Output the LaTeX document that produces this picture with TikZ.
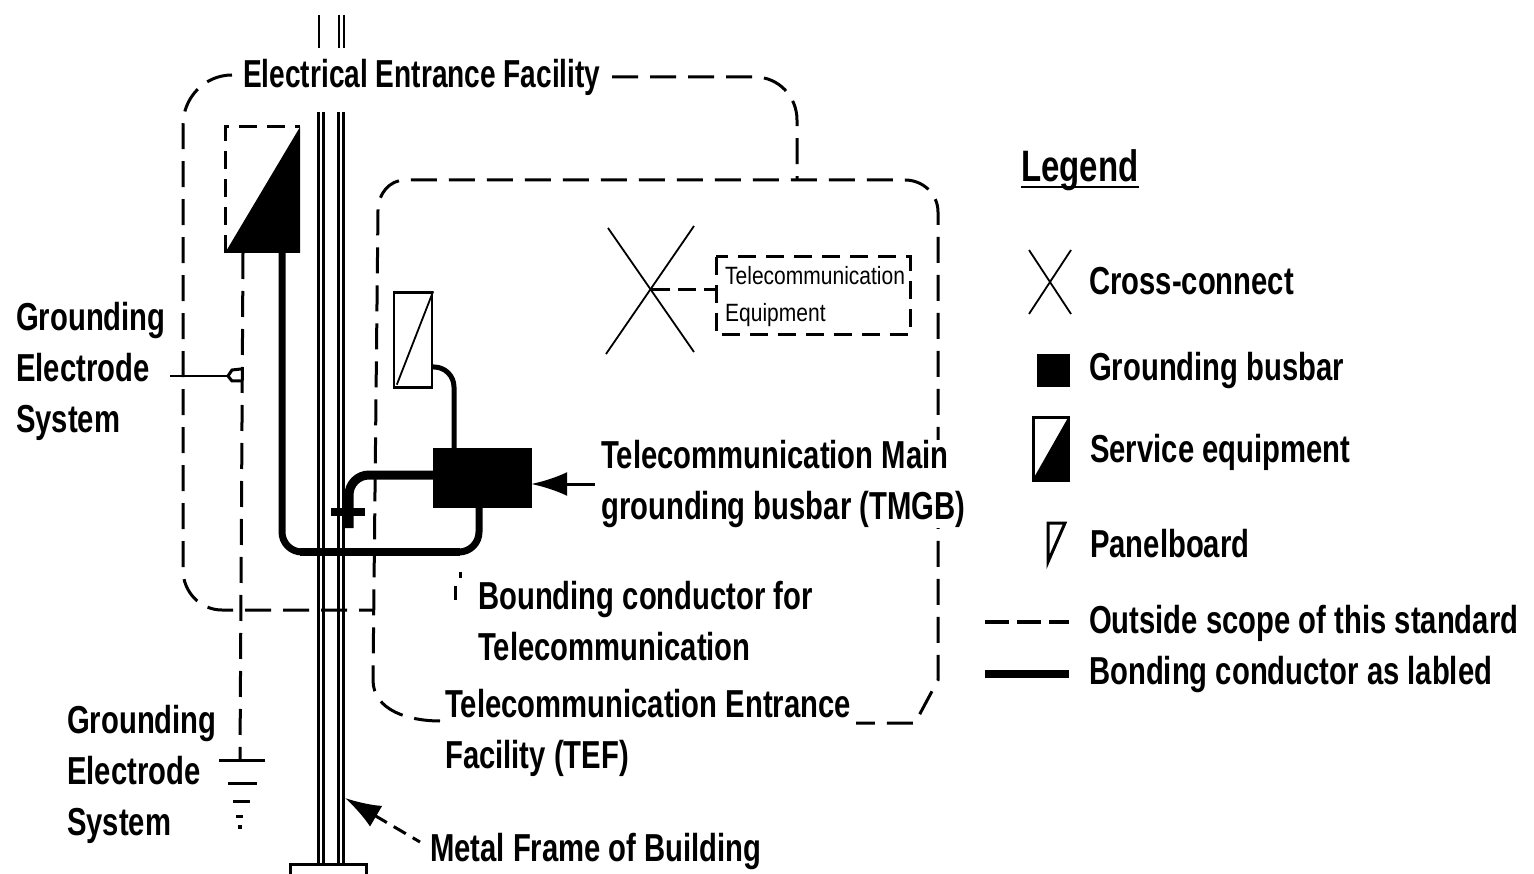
\documentclass[tikz,border=0pt]{standalone}
\usepackage{fontspec}
\setmainfont[UprightFont=* Bold,FakeStretch=0.75]{Liberation Sans}
\newfontfamily\eqfont[FakeStretch=0.84]{Liberation Sans}
\usepackage{tikz}
\usetikzlibrary{arrows.meta, positioning, calc}
\tikzset{
    lbl/.style    ={font=\fontsize{39}{51}\selectfont, align=left, anchor=west, inner sep=0pt},
    smalllbl/.style={font=\eqfont\fontsize{25}{37}\selectfont, align=left, anchor=west, inner sep=0pt},
    dsh/.style    ={draw=black, line width=3pt, dash pattern=on 26pt off 12pt},
    thn/.style    ={draw=black, line width=1.8pt},
    bond/.style   ={draw=black, line width=7pt, rounded corners=20pt},
    solid box/.style={fill=black, draw=black, inner sep=0pt},
    ar/.style     ={{Latex[length=36pt,width=24pt]}-, draw=black, line width=3pt}
}
\begin{document}
\begin{tikzpicture}[x=1pt, y=-1pt]
  \useasboundingbox (0,0) rectangle (1534,874);

  % building frame
  \foreach \fx in {318,323,338,343} {
    \draw[line width=3pt] (\fx,112) -- (\fx,864);
  }
  \draw[line width=2.6pt] (319,15) -- (319,48);
  \draw[line width=2.6pt] (339,15) -- (339,48);
  \draw[line width=2.6pt] (344,15) -- (344,48);
  \draw[line width=3pt] (290,874) |- (366,864) -- (366,874);

  % electrical entrance facility
  \coordinate (ea) at (232,75);
  \coordinate (eb) at (612,77);
  \coordinate (ec) at (797,180);
  \draw[dsh] (ea) to[out=180,in=90] (183,125) -- (183,570) to[out=-90,in=180] (222,610) -- (373,610);
  \draw[dsh] (eb) -- (755,77) to[out=0,in=90] (797,120) -- (ec);

  % telecommunication entrance facility
  \coordinate (ta) at (440,721);
  \coordinate (tb) at (856,723);
  \draw[dsh] (ta) to[out=180,in=-90] (373,680) -- (378,210) to[out=90,in=180] (405,180)
        -- (905,180) to[out=0,in=90] (938,212) -- (938,680) -- (915,723) -- (tb);

  % service equipment
  \coordinate (sa) at (225,253);
  \coordinate (sb) at (300,127);
  \coordinate (sc) at (300,253);
  \draw[dsh, dash pattern=on 18pt off 10pt] (sa) |- (sb);
  \fill (sa) -- (sb) -- (sc) -- cycle;

  % panelboard and busbar
  \node[draw=black, line width=2.4pt, minimum width=38pt, minimum height=95pt, inner sep=0pt] (panel) at (413,340) {};
  \draw[thn] (panel.north east) -- ($(panel.south west)+(4,-4)$);
  \node[solid box, minimum width=98pt, minimum height=59pt] (tmgb) at (482,478) {};

  % conductors
  \draw[bond] (282,253) -- (282,552) -- (479,552) -- (479,507);
  \draw[draw=black, line width=8pt] (300,552) -- (460,552);
  \draw[draw=black, line width=5pt, rounded corners=20pt] (panel.east |- 0,367) -- (454,367) -- (454,448);
  \draw[bond, line width=9pt] (tmgb.west |- 0,475) -- (349,475) -- (349,528);
  \draw[line width=8pt] (331,512) -- (365,512);

  % electrode line
  \coordinate (ga) at (243,253);
  \coordinate (gb) at (240,760);
  \draw[dsh] (ga) -- (gb);
  \draw[thn, line width=2.6pt] (170,376) -- (228,376);
  \draw[line width=3pt] (241,369) -- (232,370) -- (228,376) -- (232,381) -- (241,381);
  \draw[line width=3pt] (219,760) -- (265,760);
  \draw[line width=3pt] (228,783) -- (257,783);
  \draw[line width=3pt] (233,801) -- (250,801);
  \draw[line width=3pt] (236,816) -- (243,816);
  \fill (238,825) rectangle (242,829);

  % pointers
  \draw[ar] (tmgb.east |- 0,484) -- (595,484);
  \coordinate (mf) at (345,798);
  \draw[ar, dash pattern=on 14pt off 8pt] (mf) -- (420,842);
  \draw[line width=3pt] (460,572) -- (460,578);
  \draw[line width=3pt] (455,586) -- (455,600);

  % labels
  \node[lbl, xscale=0.96, transform shape] (elec) at (243,77) {Electrical Entrance Facility};
  \node[lbl] (ges1) at (16,371)   {Grounding\\Electrode\\System};
  \node[lbl] (ges2) at (67,774)   {Grounding\\Electrode\\System};
  \node[lbl, fill=white] (tmgbl) at (601,484) {Telecommunication Main\\grounding busbar (TMGB)};
  \node[lbl] (bcl)  at (478,621)  {Bounding conductor for\\Telecommunication};
  \node[lbl] (tefl) at (445,733)  {Telecommunication Entrance\\Facility (TEF)};
  \node[lbl] (mfl)  at (430,851)  {Metal Frame of Building};
  \node[smalllbl] (eql) at (725,297) {Telecommunication\\Equipment};

  % cross-connect and equipment
  \coordinate (xa) at (652,290);
  \draw[thn] (608,228) -- (694,352);
  \draw[thn] (694,226) -- (606,354);
  \coordinate (eqa) at (716,257);
  \coordinate (eqb) at (910,335);
  \draw[dsh, dash pattern=on 18pt off 10pt] (eqa) rectangle (eqb);
  \draw[dsh, dash pattern=on 18pt off 8pt] (xa) -- (715,290);

  % legend
  \node[lbl, font=\fontsize{44}{51}\selectfont] (leg) at (1021,170) {Legend};
  \draw[line width=2.8pt] (leg.west |- 0,187) -- (leg.east |- 0,187);
  \node[lbl] (l1) at (1089,281) {Cross-connect};
  \node[lbl] (l2) at (1089,371) {Grounding busbar};
  \node[lbl] (l3) at (1090,452) {Service equipment};
  \node[lbl] (l4) at (1090,544) {Panelboard};
  \node[lbl] (l5) at (1089,623) {Outside scope of this standard};
  \node[lbl] (l6) at (1089,674) {Bonding conductor as labled};

  \draw[thn] (1029,250) -- (1071,314);
  \draw[thn] (1071,250) -- (1029,314);
  \node[solid box, minimum width=32pt, minimum height=32pt] (legbus) at (1053,370) {};
  \draw[line width=3pt] (1033,417) rectangle (1068,480);
  \fill (1032,481) -- (1069,416) -- (1069,481) -- cycle;
  \draw[line width=3pt, line join=miter] (1048,523) -- (1065,523) -- (1048,562) -- cycle;
  \coordinate (lda) at (985,622);
  \coordinate (ldb) at (1069,622);
  \draw[line width=3.2pt, dash pattern=on 24pt off 8pt] (lda) -- (ldb);
  \coordinate (lba) at (985,674);
  \coordinate (lbb) at (1069,674);
  \draw[line width=8pt] (lba) -- (lbb);
\end{tikzpicture}
\end{document}
